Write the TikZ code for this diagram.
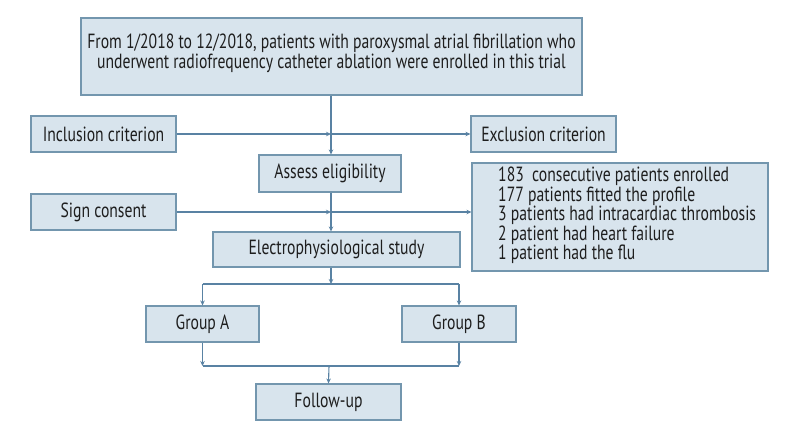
\documentclass[tikz,border=0pt]{standalone}
\usepackage{fontspec}
\setmainfont[FakeStretch=0.765]{PT Sans}
\usetikzlibrary{arrows.meta,positioning}
\definecolor{boxfill}{HTML}{D8E4ED}
\definecolor{boxdraw}{HTML}{7396AE}
\definecolor{linec}{HTML}{5982A3}
\definecolor{txt}{HTML}{1E1E1E}
\tikzset{
  box/.style={draw=boxdraw, fill=boxfill, line width=1.1pt, rectangle, inner sep=0pt, text=txt, font=\fontsize{20.5}{19.5}\selectfont, align=center},
  conn/.style={draw=linec, line width=1.1pt},
  arr/.style={conn, -{Stealth[length=5pt,width=4.5pt]}}
}
\begin{document}
\begin{tikzpicture}[x=1pt,y=-1pt]
\useasboundingbox (0,0) rectangle (800,440);
\node[box, minimum width=501, minimum height=77] (top) at (331.5,56.5) {};
\node[text=txt, font=\fontsize{20.5}{19.5}\selectfont, align=center, inner sep=0pt] (toptext) at (331.5,53.5) {From 1/2018 to 12/2018, patients with paroxysmal atrial fibrillation who\\underwent radiofrequency catheter ablation were enrolled in this trial};
\node[box, minimum width=145, minimum height=36] (incl) at (103.5,134) {Inclusion criterion};
\node[box, minimum width=145, minimum height=36] (excl) at (543.5,134) {Exclusion criterion};
\node[box, minimum width=142, minimum height=37] (assess) at (330,173.5) {Assess eligibility};
\node[box, minimum width=145, minimum height=36] (sign) at (103.5,212) {Sign consent};
\node[box, minimum width=296, minimum height=108] (stats) at (620,217) {};
\node[anchor=west, align=left, text=txt, font=\fontsize{20.5}{19.5}\selectfont, inner sep=0pt] (statstext) at (498,215.5) {183\ \ consecutive patients enrolled\\177 patients fitted the profile\\3 patients had intracardiac thrombosis\\2 patient had heart failure\\1 patient had the flu};
\node[box, minimum width=247, minimum height=35] (elec) at (336.5,249.5) {Electrophysiological study};
\node[box, minimum width=113, minimum height=36] (ga) at (202.5,324) {Group A};
\node[box, minimum width=114, minimum height=36] (gb) at (459,324) {Group B};
\node[box, minimum width=145, minimum height=36] (fu) at (328.5,402) {Follow-up};
\coordinate (vx) at (331,0);
\coordinate (m1) at (331,134);
\coordinate (m2) at (331,212);
\coordinate (split) at (331,284);
\coordinate (join) at (329,366);
% main trunk
\draw[arr] (vx |- top.south) -- (vx |- assess.north);
\draw[arr] (vx |- assess.south) -- (vx |- elec.north);
\draw[arr] (vx |- elec.south) -- (split);
% inclusion / exclusion
\draw[arr] (incl.east) -- (m1);
\draw[arr] (m1) -- (excl.west);
% sign consent / stats
\draw[arr] (sign.east) -- (m2);
\draw[arr] (m2) -- (sign.east -| stats.west);
% split to groups
\draw[conn] (ga.north |- split) -- (gb.north |- split);
\draw[arr] (ga.north |- split) -- (ga.north);
\draw[arr] (gb.north |- split) -- (gb.north);
% join
\draw[arr] (ga.south) -- (ga.south |- join);
\draw[arr] (gb.south) -- (gb.south |- join);
\draw[conn] (ga.south |- join) -- (gb.south |- join);
\draw[arr] (join) -- (fu.north);
\end{tikzpicture}
\end{document}
